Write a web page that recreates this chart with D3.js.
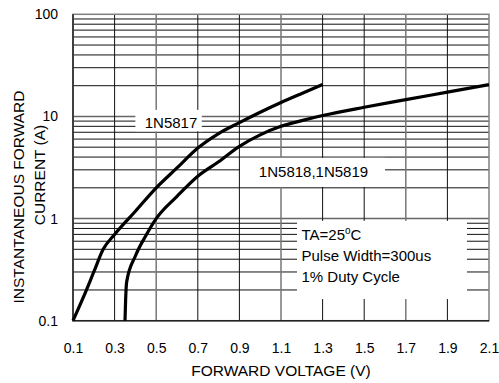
<!DOCTYPE html>
<html>
<head>
<meta charset="utf-8">
<script src="https://cdn.jsdelivr.net/npm/d3@7"></script>
<style>
  body { margin: 0; background: #fff; }
  svg text { font-family: "Liberation Sans", Arial, sans-serif; fill: #000; }
</style>
</head>
<body>
<div id="chart"></div>
<script>
// data
const xTicks = [0.1, 0.3, 0.5, 0.7, 0.9, 1.1, 1.3, 1.5, 1.7, 1.9, 2.1];
const yTicks = [0.1, 1, 10, 100];
const yTickLabels = ["0.1", "1", "10", "100"];

const volts5817 = [0.1, 0.15, 0.2, 0.245, 0.3, 0.4, 0.5, 0.6, 0.7, 0.8, 0.9, 1.0, 1.1, 1.2, 1.3];
const amps5817 = [0.1, 0.17, 0.3, 0.5, 0.7, 1.18, 2.0, 3.13, 4.9, 6.8, 8.7, 11.0, 13.7, 16.8, 20.5];

const volts5818 = [0.35, 0.353, 0.358, 0.4, 0.45, 0.5, 0.6, 0.7, 0.8, 0.9, 1.0, 1.1, 1.2, 1.3, 1.5, 1.7, 1.9, 2.1];
const amps5818 = [0.1, 0.16, 0.24, 0.43, 0.68, 1.0, 1.65, 2.6, 3.6, 5.1, 6.6, 8.0, 9.1, 10.2, 12.3, 14.6, 17.3, 20.5];

const wSvg = 499;
const hSvg = 383;
const xLeft = 73, xRight = 489, yTop = 14.3, yBottom = 320.7;

const svg = d3.select("#chart")
    .append("svg")
    .attr("width", wSvg)
    .attr("height", hSvg);

// Scales
const xScale = d3.scaleLinear([0.1, 2.1], [xLeft, xRight]);
const yScale = d3.scaleLog([0.1, 100], [yBottom, yTop]);

// grid values: every log step in each decade
const hGrid = [];
for (let dec of [0.1, 1, 10]) {
    for (let k = 2; k <= 9; k++) hGrid.push(dec * k);
}
hGrid.push(1, 10);
const vGrid = xTicks.slice(1, -1);
const grayV = [0.5, 1.1, 1.7];

// white patches behind the labels (voltage, current corners)
const boxes = [
    { v0: 0.4, v1: 0.719, i0: 7.15, i1: 11.6 },
    { v0: 0.903, v1: 1.6, i0: 2.04, i1: 3.93 },
    { v0: 1.177, v1: 1.994, i0: 0.163, i1: 0.949 }
];

svg.append("g").selectAll("line")
    .data(hGrid)
    .enter()
    .append("line")
    .attr("x1", xLeft)
    .attr("x2", xRight)
    .attr("y1", d => yScale(d))
    .attr("y2", d => yScale(d))
    .attr("stroke", d => (d == 1 || d == 10) ? "#666" : "#111")
    .attr("stroke-width", d => (d == 1 || d == 10) ? 1.5 : 1);

svg.append("g").selectAll("line")
    .data(vGrid)
    .enter()
    .append("line")
    .attr("x1", d => xScale(d))
    .attr("x2", d => xScale(d))
    .attr("y1", yTop)
    .attr("y2", yBottom)
    .attr("stroke", d => grayV.includes(d) ? "#777" : "#111")
    .attr("stroke-width", d => grayV.includes(d) ? 1.5 : 1);

svg.append("g").selectAll("rect")
    .data(boxes)
    .enter()
    .append("rect")
    .attr("x", d => xScale(d.v0))
    .attr("y", d => yScale(d.i1))
    .attr("width", d => xScale(d.v1) - xScale(d.v0))
    .attr("height", d => yScale(d.i0) - yScale(d.i1))
    .attr("fill", "#fff");

// frame
svg.append("rect")
    .attr("x", xLeft)
    .attr("y", yTop)
    .attr("width", xRight - xLeft)
    .attr("height", yBottom - yTop)
    .attr("fill", "none")
    .attr("stroke", "#808080")
    .attr("stroke-width", 1.5);
svg.append("path")
    .attr("d", `M${xLeft},${yTop}V${yBottom}H${xRight}`)
    .attr("fill", "none")
    .attr("stroke", "#222")
    .attr("stroke-width", 1.5);

// Axis labels
const xAxis = svg.append("g")
    .attr("transform", `translate(0, ${yBottom})`)
    .call(d3.axisBottom(xScale).tickValues(xTicks).tickFormat(d3.format(".1f")).tickSize(0).tickPadding(22));
const yAxis = svg.append("g")
    .attr("transform", `translate(${xLeft}, 0)`)
    .call(d3.axisLeft(yScale).tickValues(yTicks).tickFormat((d, i) => yTickLabels[i]).tickSize(0).tickPadding(15));
for (let ax of [xAxis, yAxis]) {
    ax.select(".domain").remove();
    ax.selectAll("text")
        .attr("fill", "#000")
        .style("font-family", "'Liberation Sans', Arial, sans-serif")
        .style("font-size", "14px");
}

svg.append("text")
    .attr("x", (xLeft + xRight) / 2)
    .attr("y", 376)
    .attr("text-anchor", "middle")
    .style("font-size", "15.5px")
    .text("FORWARD VOLTAGE (V)");

svg.append("text")
    .attr("transform", "translate(24, 197) rotate(-90)")
    .attr("text-anchor", "middle")
    .style("font-size", "15.5px")
    .text("INSTANTANEOUS FORWARD");
svg.append("text")
    .attr("transform", "translate(45, 175) rotate(-90)")
    .attr("text-anchor", "middle")
    .style("font-size", "15.5px")
    .text("CURRENT (A)");

// curve labels
svg.append("text")
    .attr("x", 171)
    .attr("y", 127.7)
    .attr("text-anchor", "middle")
    .style("font-size", "15px")
    .text("1N5817");
svg.append("text")
    .attr("x", 313.5)
    .attr("y", 176.7)
    .attr("text-anchor", "middle")
    .style("font-size", "15px")
    .text("1N5818,1N5819");

const note = svg.append("g").style("font-size", "15px");
const ta = note.append("text").attr("x", 301.5).attr("y", 239.5);
ta.append("tspan").text("TA=25");
ta.append("tspan").attr("dy", -6).style("font-size", "10px").text("o");
ta.append("tspan").attr("dy", 6).text("C");
note.append("text").attr("x", 301.5).attr("y", 261).text("Pulse Width=300us");
note.append("text").attr("x", 301.5).attr("y", 282).text("1% Duty Cycle");

// curves
const line = d3.line()
    .x(d => xScale(d[0]))
    .y(d => yScale(d[1]))
    .curve(d3.curveMonotoneX);

const series = [
    d3.zip(volts5817, amps5817),
    d3.zip(volts5818, amps5818)
];
svg.append("g").selectAll("path")
    .data(series)
    .enter()
    .append("path")
    .attr("d", line)
    .attr("fill", "none")
    .attr("stroke", "#000")
    .attr("stroke-width", 3.2);
</script>
</body>
</html>
